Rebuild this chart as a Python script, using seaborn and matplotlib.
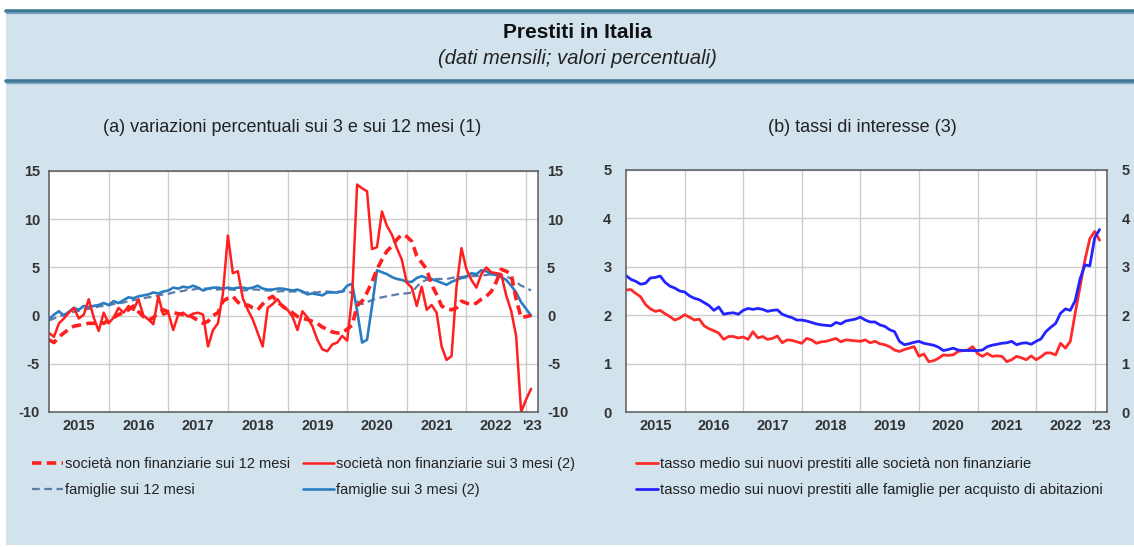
import numpy as np
import pandas as pd
import matplotlib
matplotlib.use("Agg")
import matplotlib.pyplot as plt
from matplotlib.lines import Line2D
from matplotlib.patches import Rectangle
import seaborn as sns

# ---------------- data (monthly, Jan 2015 - Feb 2023) ----------------
months = pd.date_range("2015-01-01", "2023-02-01", freq="MS")

snf_12m = [-2.5, -2.8, -2.2, -1.8, -1.4, -1.1, -1.0, -0.9, -0.8, -0.8,
           -0.6, -0.8, -0.5, -0.2, 0.1, 0.3, 0.6, 1.0, 0.4, -0.1,
           -0.5, -0.2, 0.3, 0.6, 0.4, 0.3, 0.2, 0.1, 0.1, -0.2,
           -0.5, -0.8, -0.6, 0.0, 0.3, 1.5, 1.8, 2.0, 1.4, 1.0,
           1.1, 0.8, 0.6, 1.2, 1.7, 2.0, 1.4, 1.0, 0.6, 0.3,
           -0.1, -0.3, -0.4, -0.6, -0.8, -1.2, -1.4, -1.7, -1.8, -1.8,
           -1.4, -1.0, 1.0, 1.5, 2.4, 3.5, 4.8, 5.8, 6.7, 7.2,
           7.9, 8.4, 8.2, 7.7, 6.2, 5.5, 4.8, 3.2, 2.2, 1.0,
           0.7, 0.6, 0.8, 1.5, 1.3, 1.1, 1.3, 1.7, 2.0, 2.5,
           3.5, 4.8, 4.6, 4.3, 1.7, -0.2, -0.1, 0.0]

snf_3m = [-1.8, -2.2, -0.8, -0.3, 0.3, 0.8, -0.3, 0.1, 1.7, -0.2,
          -1.6, 0.3, -0.8, -0.2, 0.8, 0.3, 1.0, 0.6, 1.7, 0.0,
          -0.4, -0.9, 2.0, 0.1, 0.3, -1.5, 0.1, 0.3, -0.1, 0.2,
          0.3, 0.1, -3.2, -1.5, -0.8, 2.3, 8.3, 4.4, 4.6, 1.8,
          0.6, -0.4, -1.8, -3.2, 0.8, 1.2, 1.7, 0.9, 0.6, -0.1,
          -1.5, 0.45, -0.2, -1.1, -2.5, -3.5, -3.7, -3.0, -2.8, -2.1,
          -2.6, 2.0, 13.6, 13.2, 12.9, 6.9, 7.1, 10.8, 9.3, 8.4,
          7.0, 5.8, 3.4, 2.9, 1.0, 3.0, 0.6, 1.1, 0.3, -3.2,
          -4.6, -4.2, 3.0, 7.0, 4.8, 3.7, 2.9, 4.3, 5.0, 4.5,
          4.4, 4.3, 2.1, 0.5, -2.1, -10.0, -8.7, -7.6]

fam_12m = [-0.5, -0.3, -0.1, 0.1, 0.3, 0.4, 0.5, 0.65, 0.7, 0.8,
           0.95, 1.0, 1.05, 1.2, 1.3, 1.35, 1.5, 1.6, 1.65, 1.8,
           1.9, 1.95, 2.1, 2.2, 2.25, 2.4, 2.5, 2.55, 2.7, 2.7,
           2.8, 2.8, 2.8, 2.7, 2.7, 2.75, 2.7, 2.7, 2.6, 2.6,
           2.65, 2.7, 2.7, 2.6, 2.6, 2.6, 2.5, 2.55, 2.5, 2.5,
           2.5, 2.4, 2.4, 2.45, 2.4, 2.5, 2.5, 2.45, 2.5, 2.5,
           2.6, 2.3, 1.5, 1.2, 1.4, 1.6, 1.8, 1.9, 2.0, 2.1,
           2.2, 2.3, 2.3, 2.4, 3.0, 3.5, 3.7, 3.7, 3.8, 3.8,
           3.8, 3.9, 4.0, 4.0, 4.1, 4.1, 4.1, 4.2, 4.2, 4.3,
           4.3, 4.2, 4.1, 3.8, 3.5, 3.1, 2.9, 2.6]

fam_3m = [-0.4, 0.1, 0.45, 0.0, 0.4, 0.8, 0.6, 1.0, 0.9, 1.0,
          1.1, 1.3, 1.1, 1.5, 1.3, 1.6, 1.9, 1.8, 2.0, 2.1,
          2.2, 2.4, 2.3, 2.5, 2.6, 2.9, 2.8, 3.0, 2.9, 3.1,
          2.9, 2.6, 2.8, 2.9, 2.9, 2.8, 2.9, 2.8, 2.9, 2.9,
          2.8, 2.9, 3.1, 2.8, 2.7, 2.7, 2.8, 2.8, 2.7, 2.6,
          2.7, 2.5, 2.2, 2.3, 2.2, 2.1, 2.4, 2.4, 2.4, 2.5,
          3.1, 3.3, 0.5, -2.8, -2.5, 1.0, 4.7, 4.5, 4.3, 4.0,
          3.8, 3.7, 3.5, 3.5, 3.9, 4.1, 3.9, 3.8, 3.6, 3.4,
          3.2, 3.5, 3.7, 3.9, 4.0, 4.4, 4.3, 4.7, 4.6, 4.3,
          4.2, 4.0, 3.7, 3.1, 2.4, 1.4, 0.7, 0.0]

rate_snf = [2.52, 2.53, 2.45, 2.38, 2.22, 2.13, 2.08, 2.10, 2.03, 1.97,
            1.90, 1.94, 2.01, 1.96, 1.90, 1.92, 1.78, 1.72, 1.68, 1.63,
            1.50, 1.56, 1.56, 1.53, 1.55, 1.50, 1.66, 1.53, 1.56, 1.50,
            1.52, 1.57, 1.43, 1.49, 1.48, 1.45, 1.42, 1.52, 1.49, 1.42,
            1.45, 1.46, 1.49, 1.52, 1.45, 1.49, 1.48, 1.47, 1.46, 1.49,
            1.43, 1.46, 1.41, 1.39, 1.35, 1.28, 1.25, 1.29, 1.32, 1.35,
            1.15, 1.20, 1.04, 1.06, 1.11, 1.18, 1.17, 1.18, 1.25, 1.27,
            1.28, 1.35, 1.21, 1.15, 1.21, 1.15, 1.16, 1.15, 1.04, 1.08,
            1.15, 1.12, 1.08, 1.16, 1.08, 1.14, 1.22, 1.22, 1.18, 1.42,
            1.32, 1.46, 2.04, 2.59, 3.14, 3.58, 3.73, 3.55]

rate_fam = [2.82, 2.74, 2.70, 2.64, 2.66, 2.77, 2.78, 2.81, 2.68, 2.60,
            2.56, 2.50, 2.48, 2.40, 2.35, 2.32, 2.26, 2.20, 2.10, 2.17,
            2.02, 2.04, 2.05, 2.02, 2.10, 2.14, 2.12, 2.14, 2.12, 2.08,
            2.10, 2.11, 2.02, 1.98, 1.95, 1.90, 1.90, 1.88, 1.85, 1.82,
            1.80, 1.79, 1.78, 1.85, 1.82, 1.88, 1.90, 1.92, 1.96, 1.90,
            1.86, 1.86, 1.80, 1.77, 1.70, 1.66, 1.46, 1.39, 1.41, 1.44,
            1.46, 1.42, 1.40, 1.38, 1.34, 1.27, 1.29, 1.32, 1.28, 1.27,
            1.27, 1.27, 1.27, 1.28, 1.35, 1.38, 1.40, 1.42, 1.43, 1.46,
            1.39, 1.42, 1.43, 1.40, 1.46, 1.51, 1.66, 1.75, 1.83, 2.04,
            2.13, 2.10, 2.30, 2.75, 3.04, 3.02, 3.60, 3.77]

year_labels = ["2015", "2016", "2017", "2018", "2019", "2020", "2021", "2022", "'23"]
yticks_a = [-10, -5, 0, 5, 10, 15]
yticks_b = [0, 1, 2, 3, 4, 5]

labels_a = ["società non finanziarie sui 12 mesi",
            "società non finanziarie sui 3 mesi (2)",
            "famiglie sui 12 mesi",
            "famiglie sui 3 mesi (2)"]
labels_b = ["tasso medio sui nuovi prestiti alle società non finanziarie",
            "tasso medio sui nuovi prestiti alle famiglie per acquisto di abitazioni"]

title = "Prestiti in Italia"
subtitle = "(dati mensili; valori percentuali)"
title_a = "(a) variazioni percentuali sui 3 e sui 12 mesi (1)"
title_b = "(b) tassi di interesse (3)"

# ---------------- styling ----------------
sns.set_style("white")
plt.rcParams["font.family"] = ["Liberation Sans", "DejaVu Sans"]

BG = "#d2e3ee"
BAND = "#3f7896"
RED = "#ff1f1f"
BLUE3 = "#2a7cc2"
BLUE12 = "#5c7ea6"
RED_B = "#ff2a2a"
BLUE_B = "#2323ff"
GRID = "#cdcdcd"
SPINE = "#5a5a5a"
TXT = "#222222"

W, H = 1134, 547
fig = plt.figure(figsize=(W / 100, H / 100), dpi=100, facecolor="white")

def fx(px):
    return px / W

def fy(py):
    return 1 - py / H

fig.patches.append(Rectangle((fx(6), fy(545)), fx(W - 6), (545 - 10) / H,
                             transform=fig.transFigure, facecolor=BG,
                             edgecolor="none", zorder=-10))
for yy in (11, 81):
    fig.add_artist(Line2D([fx(6), 1], [fy(yy), fy(yy)], transform=fig.transFigure,
                          color=BAND, lw=2.6, zorder=-5))
    fig.add_artist(Line2D([fx(6), 1], [fy(yy + 2), fy(yy + 2)], transform=fig.transFigure,
                          color="#7fa9c0", lw=1.0, zorder=-5))

fig.text(fx(577), fy(33), title, ha="center", va="center", fontsize=15,
         fontweight="bold", color="#111111")
fig.text(fx(577), fy(58), subtitle, ha="center", va="center", fontsize=14.5,
         style="italic", color="#222222")
fig.text(fx(292), fy(127), title_a, ha="center", va="center", fontsize=13, color=TXT)
fig.text(fx(862), fy(127), title_b, ha="center", va="center", fontsize=13, color=TXT)

axA = fig.add_axes([fx(49), fy(412), fx(489), 241 / H])
axB = fig.add_axes([fx(626), fy(412), fx(481), 242 / H])

x = months.year + (months.month - 1) / 12.0

# panel (a)
sns.lineplot(x=x, y=fam_12m, ax=axA, color=BLUE12, lw=1.6,
             linestyle=(0, (3.5, 2.0)), label=labels_a[2], errorbar=None)
sns.lineplot(x=x, y=fam_3m, ax=axA, color=BLUE3, lw=1.9,
             label=labels_a[3], errorbar=None)
sns.lineplot(x=x, y=snf_12m, ax=axA, color=RED, lw=2.6,
             linestyle=(0, (2.6, 1.5)), label=labels_a[0], errorbar=None)
sns.lineplot(x=x, y=snf_3m, ax=axA, color=RED, lw=1.8,
             label=labels_a[1], errorbar=None)

# panel (b)
sns.lineplot(x=x, y=rate_snf, ax=axB, color=RED_B, lw=2.0,
             label=labels_b[0], errorbar=None)
sns.lineplot(x=x, y=rate_fam, ax=axB, color=BLUE_B, lw=2.0,
             label=labels_b[1], errorbar=None)

first_year = 2015
n_years = len(year_labels) - 1
bounds = [first_year + i for i in range(1, n_years + 1)]
label_pos = [first_year + i + 0.5 for i in range(n_years)] + [first_year + n_years + 0.1]
monthly = [first_year + i / 12.0 for i in range(1, 12 * n_years + 3)]

def style_axis(ax, ylim, yticks, xlim, ypad):
    ax.set_facecolor("white")
    ax.set_xlim(*xlim)
    ax.set_ylim(*ylim)
    ax.set_yticks(yticks)
    ax.set_yticklabels([str(t) for t in yticks])
    ax.yaxis.set_tick_params(length=0, labelleft=True, labelright=True, pad=ypad,
                             labelsize=10.5, labelcolor="#333333")
    for lab in ax.get_yticklabels():
        lab.set_fontweight("bold")
    ax.set_xticks(bounds)
    ax.set_xticklabels([])
    ax.set_xticks(monthly, minor=True)
    ax.tick_params(axis="x", which="major", length=0)
    ax.tick_params(axis="x", which="minor", direction="in", length=3,
                   width=0.6, color="#8a8a8a")
    ax.grid(True, which="major", color=GRID, lw=1.0)
    ax.set_axisbelow(True)
    for sp in ax.spines.values():
        sp.set_color(SPINE)
        sp.set_linewidth(1.1)
    ax.set_xlabel("")
    ax.set_ylabel("")
    sec = ax.secondary_xaxis("bottom")
    sec.set_xticks(label_pos)
    sec.set_xticklabels(year_labels)
    sec.tick_params(length=0, pad=5, labelsize=10.5, labelcolor="#333333")
    for lab in sec.get_xticklabels():
        lab.set_fontweight("bold")
    sec.spines["bottom"].set_visible(False)
    leg = ax.get_legend()
    if leg is not None:
        leg.remove()

style_axis(axA, (-10, 15), yticks_a, (2015.0, 2023.2), 6.5)
style_axis(axB, (0, 5), yticks_b, (2015.0, 2023.21), 10.5)

# legends
hA, lA = axA.get_legend_handles_labels()
dA = dict(zip(lA, hA))
order = [labels_a[0], labels_a[2], labels_a[1], labels_a[3]]
fig.legend([dA[k] for k in order], order, ncol=2, loc="upper left",
           bbox_to_anchor=(fx(32), fy(457)), frameon=False, fontsize=10.5,
           handlelength=2.1, handletextpad=0.15, columnspacing=0.9,
           labelspacing=0.8, borderpad=0, borderaxespad=0, labelcolor=TXT)

hB, lB = axB.get_legend_handles_labels()
fig.legend(hB, lB, ncol=1, loc="upper left",
           bbox_to_anchor=(fx(636), fy(457)), frameon=False, fontsize=10.7,
           handlelength=1.5, handletextpad=0.1,
           labelspacing=0.8, borderpad=0, borderaxespad=0, labelcolor=TXT)

fig.savefig("out.png", dpi=100, facecolor="white")
